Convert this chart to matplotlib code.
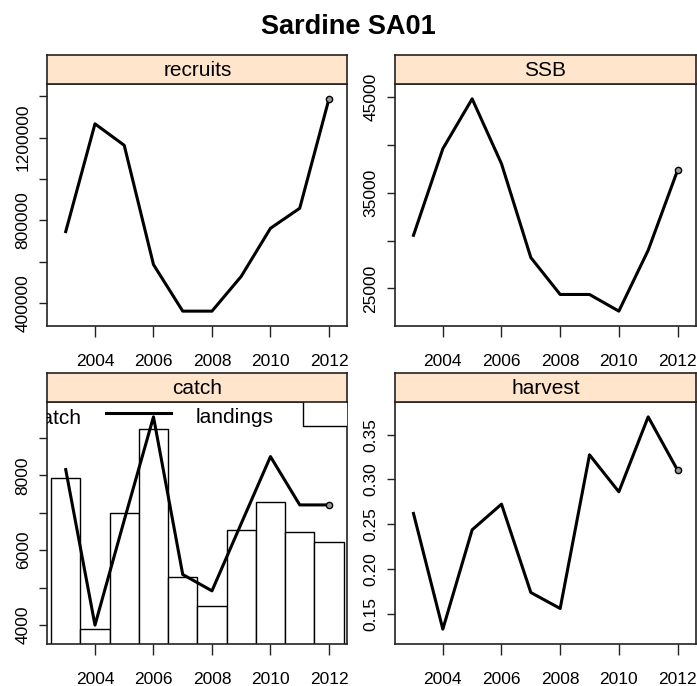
import matplotlib
matplotlib.use("Agg")
import matplotlib.pyplot as plt
from matplotlib.patches import Rectangle

plt.rcParams['font.family'] = ['Liberation Sans', 'DejaVu Sans']

years = [2003, 2004, 2005, 2006, 2007, 2008, 2009, 2010, 2011, 2012]
recruits = [745000, 1267000, 1163000, 585000, 359500, 359500, 528000, 761000, 858000, 1388000]
ssb = [30565, 39616, 44836, 38050, 28236, 24374, 24374, 22630, 29000, 37350]
landings = [8152, 4000, 6800, 9560, 5352, 4915, 6712, 8500, 7209, 7209]
catch = [7929, 3893, 6987, 9236, 5289, 4507, 6533, 7280, 6499, 6232]
harvest = [0.262, 0.1325, 0.2437, 0.2724, 0.1735, 0.1556, 0.3276, 0.2862, 0.3701, 0.3105]

recruits_ticks = [400000, 600000, 800000, 1000000, 1200000, 1400000]
recruits_labels = ['400000', '', '800000', '', '1200000', '']
ssb_ticks = [25000, 30000, 35000, 40000, 45000]
ssb_labels = ['25000', '', '35000', '', '45000']
catch_ticks = [4000, 5000, 6000, 7000, 8000, 9000]
catch_labels = ['4000', '', '6000', '', '8000', '']
harvest_ticks = [0.15, 0.20, 0.25, 0.30, 0.35]
harvest_labels = ['0.15', '0.20', '0.25', '0.30', '0.35']
year_ticks = [2004, 2006, 2008, 2010, 2012]

W, H = 697, 686
STRIP = '#FFE5CC'
EDGE = '#222222'
PAD = 0.07


def padded(lo, hi):
    r = hi - lo
    return lo - PAD * r, hi + PAD * r


def make_panel(fig, x0, x1, y0, y1, title):
    # panel axes in pixel box, strip sitting on top of it
    ax = fig.add_axes([x0 / W, 1 - y1 / H, (x1 - x0) / W, (y1 - y0) / H])
    st = fig.add_axes([x0 / W, 1 - y0 / H, (x1 - x0) / W, 29 / H])
    st.set_facecolor(STRIP)
    st.set_xticks([])
    st.set_yticks([])
    for s in st.spines.values():
        s.set_color(EDGE)
        s.set_linewidth(1.2)
    st.text(0.5, 0.45, title, ha='center', va='center', fontsize=15, transform=st.transAxes)

    for s in ax.spines.values():
        s.set_color(EDGE)
        s.set_linewidth(1.2)
    ax.set_xlim(padded(min(years), max(years)))
    ax.set_xticks(year_ticks)
    ax.tick_params(axis='both', direction='out', length=6, width=1, color=EDGE, labelsize=12.5)
    ax.tick_params(axis='x', pad=12, length=8)
    ax.tick_params(axis='y', labelrotation=90, pad=6)
    return ax


def draw_series(ax, vals):
    ax.plot(years, vals, color='black', lw=2.2, zorder=3)
    ax.plot(years[-1], vals[-1], 'o', ms=4.5, mfc='#999999', mec='black', mew=1, zorder=4)


fig = plt.figure(figsize=(W / 100, H / 100), dpi=100)
fig.text(0.5, 1 - 27 / H, 'Sardine SA01', ha='center', va='center', fontsize=19.5, weight='bold')

# recruits
ax = make_panel(fig, 47.3, 347.4, 84, 326, 'recruits')
draw_series(ax, recruits)
ax.set_ylim(padded(min(recruits), max(recruits)))
ax.set_yticks(recruits_ticks, recruits_labels, rotation=90, va='center')

# SSB
ax = make_panel(fig, 395, 696, 84, 326, 'SSB')
draw_series(ax, ssb)
ax.set_ylim(padded(min(ssb), max(ssb)))
ax.set_yticks(ssb_ticks, ssb_labels, rotation=90, va='center')

# catch: bars for catch, line for landings
ax = make_panel(fig, 47.3, 347.4, 402, 644, 'catch')
ax.bar(years, catch, width=1.0, color='white', edgecolor='black', lw=1, zorder=2)
draw_series(ax, landings)
ax.set_ylim(padded(min(catch + landings), max(catch + landings)))
ax.set_yticks(catch_ticks, catch_labels, rotation=90, va='center')
ax.text(0.112, 0.933, 'catch', ha='right', va='center', fontsize=15,
        transform=ax.transAxes, clip_on=True, zorder=5)
ax.plot([0.196, 0.412], [0.956, 0.956], color='black', lw=2.2,
        transform=ax.transAxes, clip_on=True, zorder=5)
ax.text(0.4955, 0.934, 'landings', ha='left', va='center', fontsize=15,
        transform=ax.transAxes, clip_on=True, zorder=5)
ax.add_patch(Rectangle((0.851, 0.902), 0.3, 0.2, transform=ax.transAxes,
                       facecolor='white', edgecolor='black', lw=1, clip_on=True, zorder=5))

# harvest
ax = make_panel(fig, 395, 696, 402, 644, 'harvest')
draw_series(ax, harvest)
ax.set_ylim(padded(min(harvest), max(harvest)))
ax.set_yticks(harvest_ticks, harvest_labels, rotation=90, va='center')

fig.savefig('out.png', dpi=100)
